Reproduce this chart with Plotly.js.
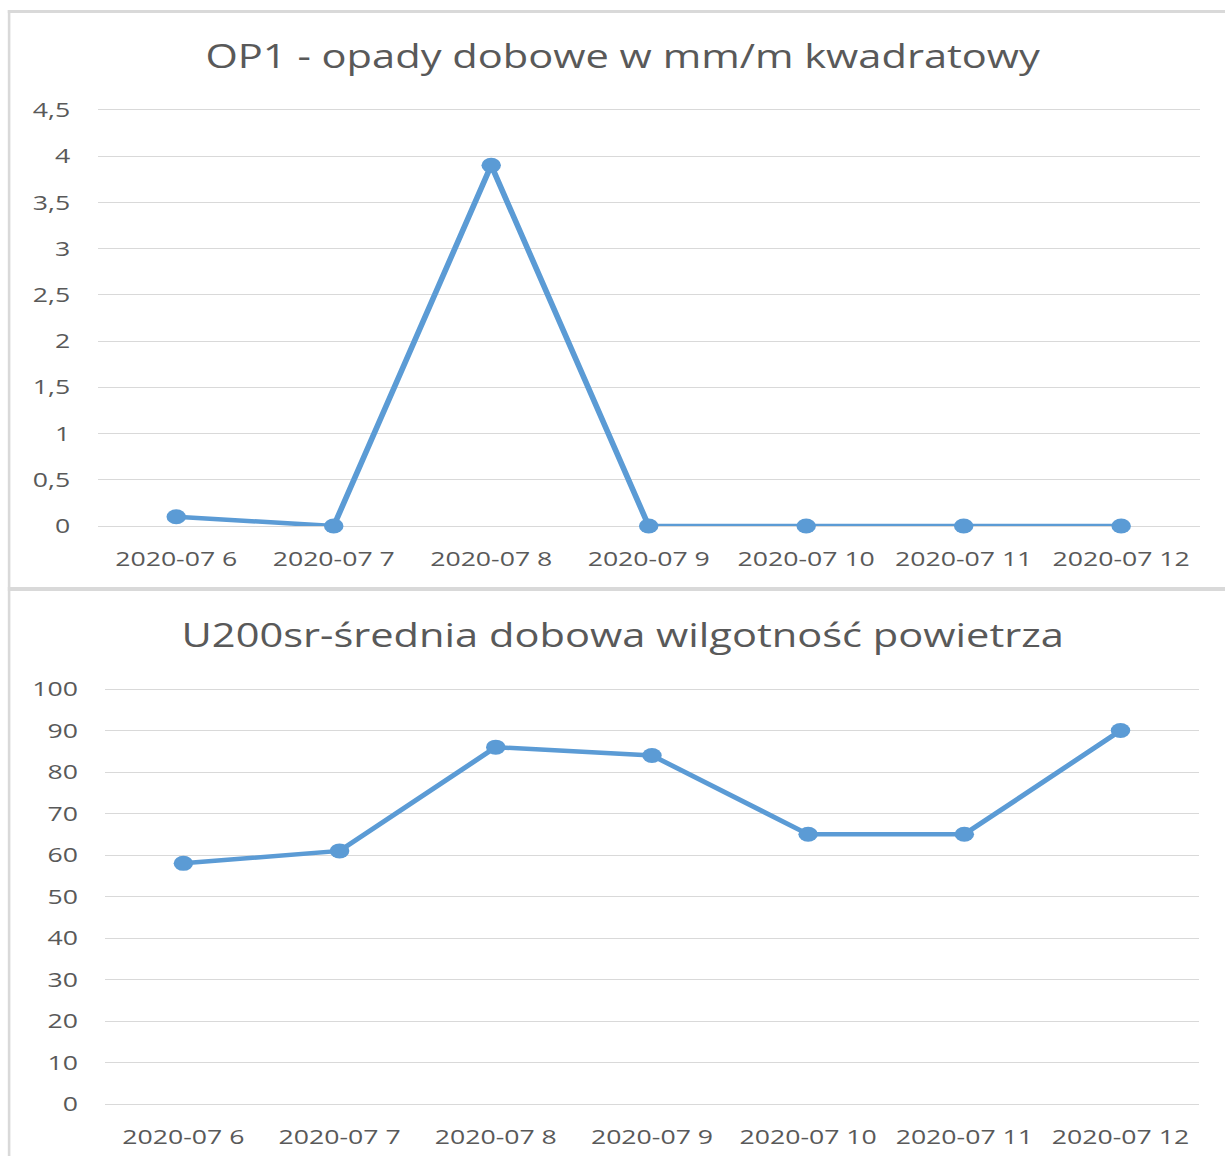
<!DOCTYPE html>
<html>
<head>
<meta charset="utf-8">
<script src="https://cdn.plot.ly/plotly-3.0.1.min.js"></script>
<style>
  html, body { margin: 0; padding: 0; background: #ffffff; overflow: hidden; width: 1225px; height: 1156px; }
  #wrap { position: absolute; left: 0; top: 0; width: 943px; height: 1156px; transform: scaleX(1.3); transform-origin: 0 0; }
  .bar { position: absolute; background: #d9d9d9; }
  .plot { position: absolute; left: 0; width: 943px; }
</style>
</head>
<body>
<div id="wrap">
  <div class="bar" style="left:5.6px; top:10px; width:2px; height:1146px;"></div>
  <div class="bar" style="left:5.6px; top:10px; width:940px; height:2.5px;"></div>
  <div class="bar" style="left:5.6px; top:587px; width:940px; height:3.5px;"></div>
  <div id="chart1" class="plot" style="top:12px; height:574px;"></div>
  <div id="chart2" class="plot" style="top:591px; height:565px;"></div>
</div>
<script>
// Data
const days = ["2020-07 6", "2020-07 7", "2020-07 8", "2020-07 9", "2020-07 10", "2020-07 11", "2020-07 12"];
const opady = [0.1, 0, 3.9, 0, 0, 0, 0];
const wilgotnosc = [58, 61, 86, 84, 65, 65, 90];
const title1 = "OP1 - opady dobowe w mm/m kwadratowy";
const title2 = "U200sr-średnia dobowa wilgotność powietrza";

const FONT = "'Open Sans', 'Noto Sans', sans-serif";
const TXT = "#595959";
const GRID = "#d9d9d9";
const BLUE = "#5b9bd5";

function makeChart(id, y, title, yrange, dtick, margin, titleY) {
  const trace = {
    x: days, y: y, type: "scatter", mode: "lines+markers",
    line: { color: BLUE, width: 4.5 },
    marker: { color: BLUE, size: 15 },
    cliponaxis: false,
    hoverinfo: "skip"
  };
  const layout = {
    width: 943, height: margin.h,
    margin: { l: margin.l, r: margin.r, t: margin.t, b: margin.b, pad: 0 },
    paper_bgcolor: "rgba(0,0,0,0)", plot_bgcolor: "rgba(0,0,0,0)",
    separators: ", ",
    showlegend: false,
    title: {
      text: title, font: { family: FONT, size: 32, color: TXT },
      xref: "container", x: 479 / 943, xanchor: "center",
      yref: "container", y: titleY, yanchor: "middle"
    },
    xaxis: {
      type: "category", range: [-0.5, 6.5],
      showgrid: false, zeroline: false, showline: false, ticks: "",
      tickfont: { family: FONT, size: 20.5, color: TXT },
      ticklabelstandoff: 19, fixedrange: true
    },
    yaxis: {
      range: yrange, dtick: dtick, tick0: 0,
      showgrid: true, gridcolor: GRID, gridwidth: 1,
      zeroline: true, zerolinecolor: GRID, zerolinewidth: 1,
      showline: false, ticks: "",
      tickfont: { family: FONT, size: 20.5, color: TXT },
      ticklabelstandoff: 20, fixedrange: true
    }
  };
  Plotly.newPlot(id, [trace], layout, { displayModeBar: false, staticPlot: true });
}

makeChart("chart1", opady, title1, [0, 4.52], 0.5,
  { h: 574, l: 74.6, r: 19.9, t: 96.15, b: 60 }, 1 - 45 / 574);
makeChart("chart2", wilgotnosc, title2, [0, 100.5], 10,
  { h: 565, l: 80.8, r: 20.7, t: 95.9, b: 52 }, 1 - 45 / 565);
</script>
</body>
</html>
